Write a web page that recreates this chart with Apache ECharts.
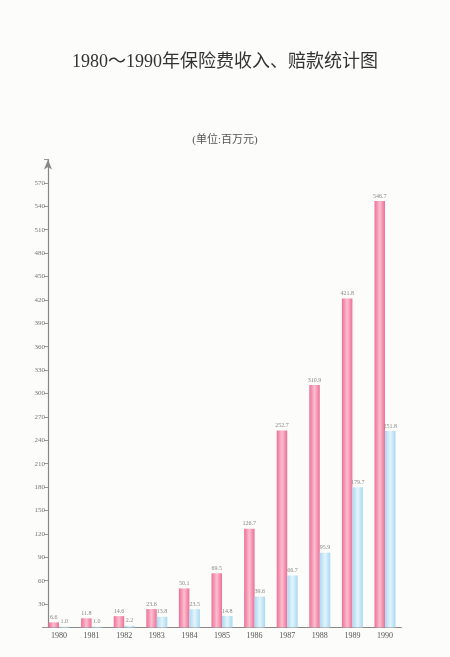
<!DOCTYPE html>
<html><head><meta charset="utf-8">
<script src="https://cdn.jsdelivr.net/npm/echarts@6/dist/echarts.min.js"></script>
<style>html,body{margin:0;padding:0;background:#fcfcfa;}#c{width:450px;height:657px;}</style>
</head><body><div id="c"></div>
<script>
const years = ['1980','1981','1982','1983','1984','1985','1986','1987','1988','1989','1990'];
const premiumIncome = [6.6, 11.8, 14.6, 23.6, 50.1, 69.5, 126.7, 252.7, 310.9, 421.8, 546.7];
const claimsPaid = [1.0, 1.0, 2.2, 13.8, 23.5, 14.8, 39.6, 66.7, 95.9, 179.7, 251.8];
const yTicks = [30,60,90,120,150,180,210,240,270,300,330,360,390,420,450,480,510,540,570];

const chart = echarts.init(document.getElementById('c'));
function grad(edge, mid){
  return new echarts.graphic.LinearGradient(0,0,1,0,[
    {offset:0,color:edge},{offset:0.5,color:mid},{offset:1,color:edge}]);
}
const serif = '"Liberation Serif","DejaVu Serif","Noto Sans CJK SC",serif';
chart.setOption({
  backgroundColor:'#fcfcfa',
  animation:false,
  title:[
    {text:'1980～1990年保险费收入、赔款统计图',left:'center',top:48,
     textStyle:{fontFamily:serif,fontSize:18,fontWeight:'normal',color:'#333'}},
    {text:'(单位:百万元)',left:'center',top:130,
     textStyle:{fontFamily:serif,fontSize:11,fontWeight:'normal',color:'#555'}}
  ],
  grid:{left:42.7,right:48.7,top:159.5,bottom:29.5},
  xAxis:{type:'category',data:years,
    axisLine:{lineStyle:{color:'#888',width:1.2}},
    axisTick:{show:false},
    axisLabel:{fontFamily:serif,fontSize:8,color:'#555',margin:4}},
  yAxis:{type:'value',min:0,max:600,interval:30,offset:-5.3,
    axisLine:{show:true,symbol:['none','arrow'],symbolSize:[6,10],lineStyle:{color:'#888',width:1.2}},
    axisTick:{show:true,length:4,lineStyle:{color:'#999'}},
    splitLine:{show:false},
    axisLabel:{fontFamily:serif,fontSize:7,color:'#777',margin:3,
      formatter:v=>yTicks.indexOf(v)>=0?String(v):''}},
  series:[
    {name:'保险费收入',type:'bar',data:premiumIncome,barWidth:10.5,barGap:'0%',
     itemStyle:{color:grad('#ee6f95','#fbbfd0')},
     label:{show:true,position:'top',distance:2,fontSize:6,fontFamily:serif,color:'#888',formatter:p=>p.value.toFixed(1)}},
    {name:'赔款',type:'bar',data:claimsPaid,barWidth:10.5,
     itemStyle:{color:grad('#a9d9f2','#e4f4fc')},
     label:{show:true,position:'top',distance:2,fontSize:6,fontFamily:serif,color:'#888',formatter:p=>p.value.toFixed(1)}}
  ]
});
</script></body></html>
